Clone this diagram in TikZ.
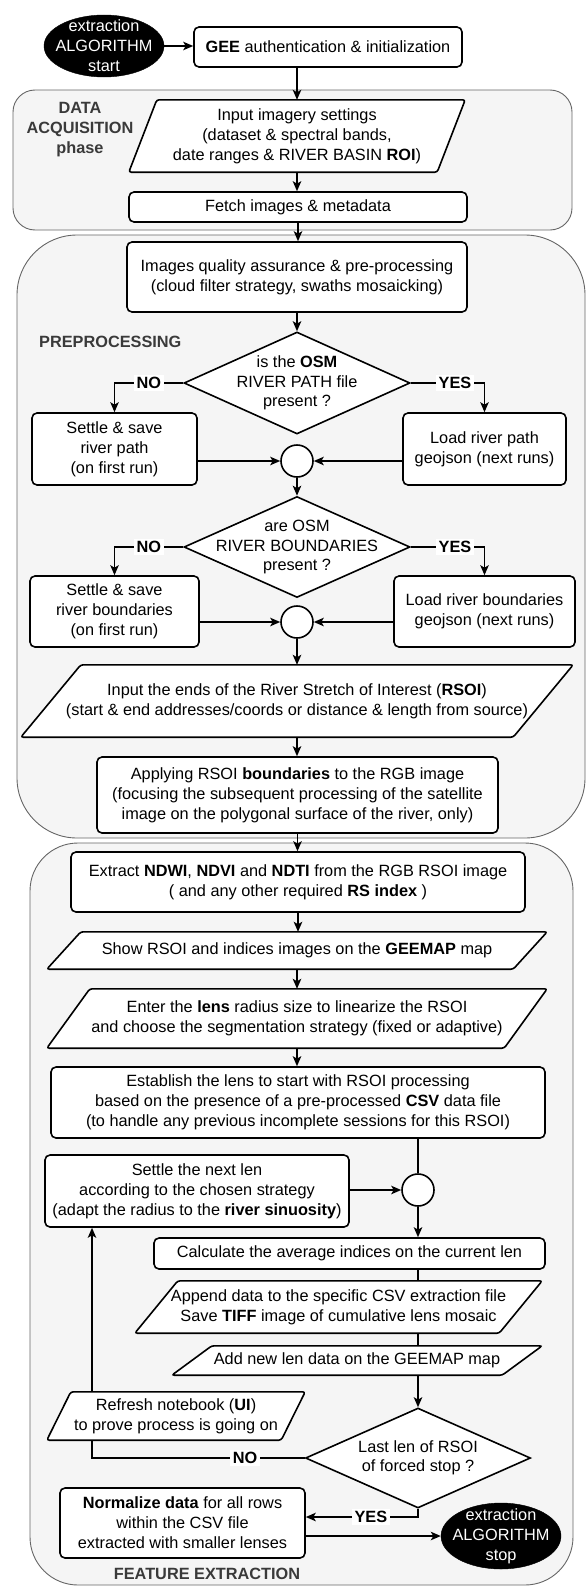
\documentclass[tikz,border=0pt]{standalone}
\usepackage{fontspec}
\setmainfont{Liberation Sans}
\usetikzlibrary{shapes.geometric,arrows.meta,calc}
\pgfdeclarelayer{back}
\pgfdeclarelayer{mid}
\pgfsetlayers{back,mid,main}
\definecolor{contfill}{HTML}{F5F5F5}
\definecolor{contline}{HTML}{666666}
\definecolor{grptext}{HTML}{3A3A3A}
\newcommand\parashape[2]{%
  \begin{pgfonlayer}{mid}
  \draw[line width=1.6pt, fill=white, rounded corners=2.5pt]
    ([xshift=#2pt]#1.north west) -- (#1.north east) -- ([xshift=-#2pt]#1.south east) -- (#1.south west) -- cycle;
  \end{pgfonlayer}}
\begin{document}
\begin{tikzpicture}[x=1pt,y=-1pt,
  every node/.style={font=\fontsize{16.3}{20}\selectfont, inner sep=0pt, align=center},
  box/.style={draw, line width=1.6pt, rounded corners=5pt, fill=white},
  cont/.style={draw=contline, line width=0.9pt, fill=contfill},
  grp/.style={font=\bfseries\fontsize{16.3}{20}\selectfont, text=grptext},
  ell/.style={ellipse, draw=black, fill=black, minimum width=120pt, minimum height=#1},
  elltext/.style={text=white},
  dia/.style={diamond, draw, line width=1.6pt, fill=white, aspect=2.2},
  diatext/.style={font=\fontsize{16.3}{19.5}\selectfont},
  circ/.style={circle, draw, line width=1.6pt, fill=white, minimum size=32pt},
  line/.style={line width=1.6pt},
  arr/.style={line width=1.6pt, -{Stealth[length=10pt, width=8.5pt, inset=2.5pt]}},
  lab/.style={font=\bfseries\fontsize{16.3}{20}\selectfont, fill=white, inner sep=2.5pt}
]
\useasboundingbox (0,0) rectangle (587,1587);

% containers
\begin{pgfonlayer}{back}
\node[cont, rounded corners=22pt, minimum width=559pt, minimum height=140pt] (dataC) at (292.5,160) {};
\node[cont, rounded corners=60pt, minimum width=568pt, minimum height=603pt] (preC) at (301,536.5) {};
\node[cont, rounded corners=48pt, minimum width=543pt, minimum height=742pt] (featC) at (301.5,1214) {};
\end{pgfonlayer}

% group labels
\node[grp] (dataL) at (80,130) {DATA\\ACQUISITION\\phase};
\node[grp, anchor=west] (preL) at (39,342) {PREPROCESSING};
\node[grp] (featL) at (207,1574) {FEATURE EXTRACTION};

% start
\node[ell=62pt] (start) at (104,46) {};
\node[elltext] (startt) at (start) {extraction\\ALGORITHM\\start};
\node[box, minimum width=268pt, minimum height=40pt] (gee) at (328,47) {\textbf{GEE} authentication \& initialization};

% data acquisition
\node[minimum width=336pt, minimum height=72pt] (input) at (297,136) {Input imagery settings\\(dataset \& spectral bands,\\date ranges \& RIVER BASIN \textbf{ROI})};
\parashape{input}{28}
\node[box, minimum width=338pt, minimum height=30pt] (fetch) at (298,207) {Fetch images \& metadata};

% preprocessing
\node[box, minimum width=340pt, minimum height=70pt] (qa) at (297,277) {Images quality assurance \& pre-processing\\(cloud filter strategy, swaths mosaicking)};
\node[dia, minimum width=226pt, minimum height=102pt] (d1) at (297,383) {};
\node[diatext] (d1t) at (d1) {is the \textbf{OSM}\\RIVER PATH file\\present ?};
\node[box, minimum width=165pt, minimum height=72pt] (settle1) at (114.5,449) {Settle \& save\\river path\\(on first run)};
\node[box, minimum width=163pt, minimum height=72pt] (load1) at (484.5,449) {Load river path\\geojson (next runs)};
\node[circ] (c1) at (297,461) {};
\node[dia, minimum width=226pt, minimum height=101pt] (d2) at (297,547) {};
\node[diatext] (d2t) at (d2) {are OSM\\RIVER BOUNDARIES\\present ?};
\node[box, minimum width=169pt, minimum height=71pt] (settle2) at (114.5,611.5) {Settle \& save\\river boundaries\\(on first run)};
\node[box, minimum width=181pt, minimum height=71pt] (load2) at (484.5,611.5) {Load river boundaries\\geojson (next runs)};
\node[circ] (c2) at (297,622) {};
\node[minimum width=552pt, minimum height=72pt] (rsoi) at (297,701) {Input the ends of the River Stretch of Interest (\textbf{RSOI})\\(start \& end addresses/coords or distance \& length from source)};
\parashape{rsoi}{60}
\node[box, minimum width=401pt, minimum height=76pt] (apply) at (297.5,795) {Applying RSOI \textbf{boundaries} to the RGB image\\(focusing the subsequent processing of the satellite\\image on the polygonal surface of the river, only)};

% feature extraction
\node[box, minimum width=454pt, minimum height=60pt] (extract) at (298,882) {Extract \textbf{NDWI}, \textbf{NDVI} and \textbf{NDTI} from the RGB RSOI image\\( and any other required \textbf{RS index} )};
\node[minimum width=500pt, minimum height=37pt] (show) at (297,950.5) {Show RSOI and indices images on the \textbf{GEEMAP} map};
\parashape{show}{34}
\node[minimum width=500pt, minimum height=59pt] (enter) at (297,1018.5) {Enter the \textbf{lens} radius size to linearize the RSOI\\and choose the segmentation strategy (fixed or adaptive)};
\parashape{enter}{43}
\node[box, minimum width=494pt, minimum height=71pt] (establish) at (298,1102.5) {Establish the lens to start with RSOI processing\\based on the presence of a pre-processed \textbf{CSV} data file\\(to handle any previous incomplete sessions for this RSOI)};
\node[box, minimum width=304pt, minimum height=72pt] (settle3) at (197,1191) {Settle the next len\\according to the chosen strategy\\(adapt the radius to the \textbf{river sinuosity})};
\node[circ] (c3) at (418,1190) {};
\node[box, minimum width=391pt, minimum height=31pt] (calc) at (349.5,1253.5) {Calculate the average indices on the current len};
\node[minimum width=407pt, minimum height=52pt] (append) at (338.5,1307) {Append data to the specific CSV extraction file\\Save \textbf{TIFF} image of cumulative lens mosaic};
\parashape{append}{43}
\node[minimum width=370pt, minimum height=29pt] (addlen) at (357,1360.5) {Add new len data on the GEEMAP map};
\parashape{addlen}{40}
\node[dia, minimum width=225pt, minimum height=100pt] (d3) at (418,1458) {};
\node[diatext] (d3t) at (d3) {Last len of RSOI\\of forced stop ?};
\node[minimum width=258pt, minimum height=48pt] (refresh) at (176,1416) {Refresh notebook (\textbf{UI})\\to prove process is going on};
\parashape{refresh}{24}
\node[box, minimum width=245pt, minimum height=70pt] (normalize) at (182.5,1523) {\textbf{Normalize data} for all rows\\within the CSV file\\extracted with smaller lenses};
\node[ell=66pt] (stop) at (501,1536) {};
\node[elltext] (stopt) at (stop) {extraction\\ALGORITHM\\stop};

\coordinate (nocorner) at (92,1458);
\coordinate (yescorner) at (418,1517);

% connectors
\draw[arr] (start.east) -- (start.east -| gee.west);
\draw[arr] (input.north |- gee.south) -- (input.north);
\draw[arr] (input.south) -- (input.south |- fetch.north);
\draw[arr] (fetch.south) -- (fetch.south |- qa.north);
\draw[arr] (qa.south) -- (d1.north);
\draw[arr] (d1.west) -| node[lab, pos=0.25] {NO} (settle1.north);
\draw[arr] (d1.east) -| node[lab, pos=0.3] {YES} (load1.north);
\draw[arr] (settle1.east |- c1.west) -- (c1.west);
\draw[arr] (load1.west |- c1.east) -- (c1.east);
\draw[arr] (c1.south) -- (d2.north);
\draw[arr] (d2.west) -| node[lab, pos=0.25] {NO} (settle2.north);
\draw[arr] (d2.east) -| node[lab, pos=0.3] {YES} (load2.north);
\draw[arr] (settle2.east |- c2.west) -- (c2.west);
\draw[arr] (load2.west |- c2.east) -- (c2.east);
\draw[arr] (c2.south) -- (rsoi.north);
\draw[arr] (rsoi.south) -- (rsoi.south |- apply.north);
\draw[arr] (apply.south) -- (apply.south |- extract.north);
\draw[arr] (extract.south) -- (extract.south |- show.north);
\draw[arr] (show.south) -- (enter.north);
\draw[arr] (enter.south) -- (enter.south |- establish.north);
\draw[line] (c3.north |- establish.south) -- (c3.north);
\draw[arr] (settle3.east |- c3.west) -- (c3.west);
\draw[arr] (c3.south) -- (c3.south |- calc.north);
\draw[line] (calc.south -| c3) -- (append.north -| c3);
\draw[line] (append.south -| c3) -- (addlen.north -| c3);
\draw[arr] (addlen.south -| c3) -- (d3.north);
\draw[line] (d3.west) -- node[lab, pos=0.28] {NO} (nocorner) -- (nocorner |- refresh.south);
\draw[arr] (refresh.north -| nocorner) -- (settle3.south -| nocorner);
\draw[arr] (d3.south) -- (yescorner) -- node[lab, pos=0.42] {YES} (yescorner -| normalize.east);
\draw[arr] (normalize.east |- stop.west) -- (stop.west);
\end{tikzpicture}
\end{document}
